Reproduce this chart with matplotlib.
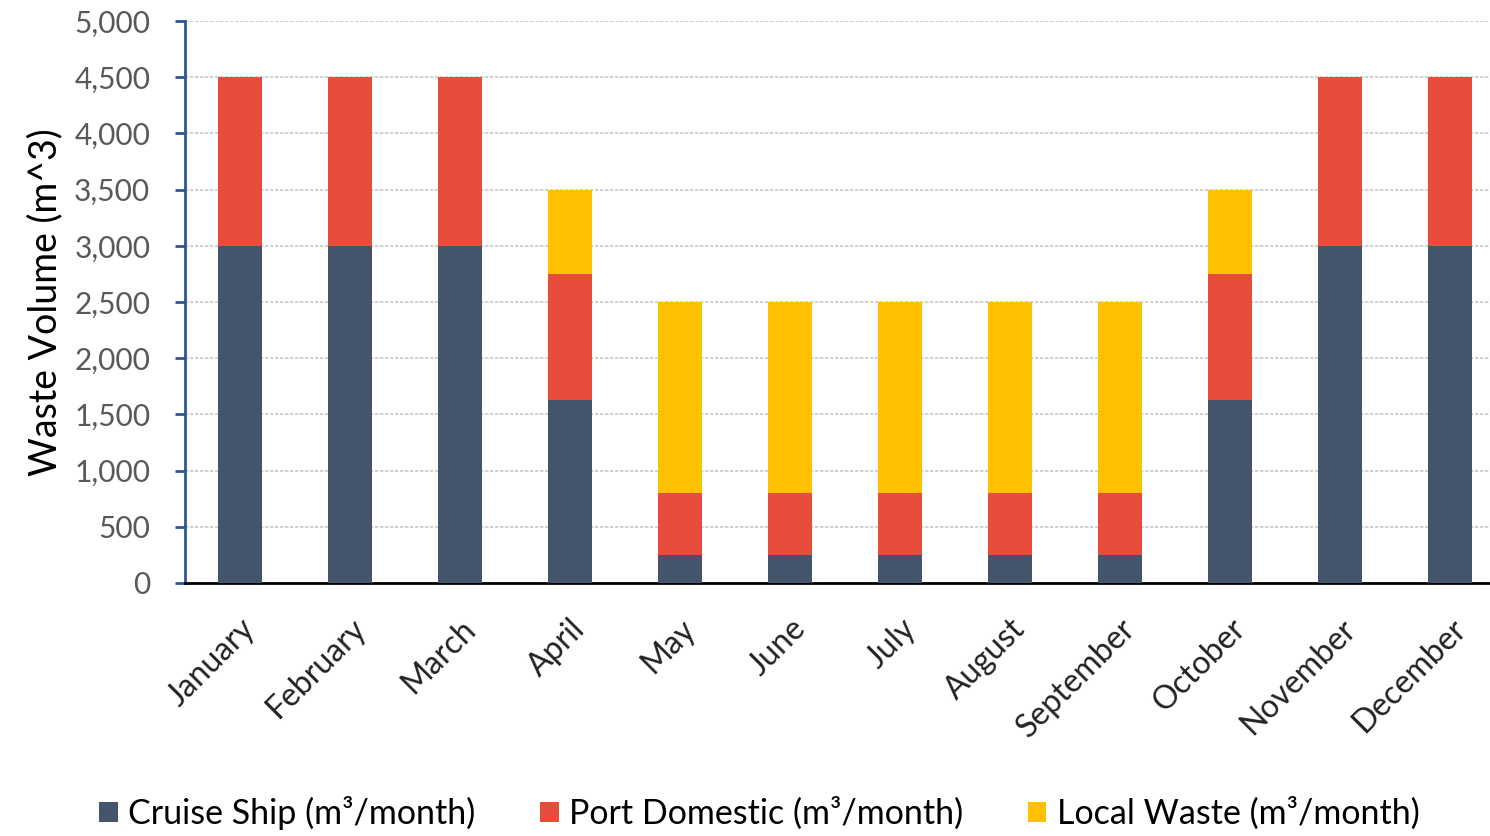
import numpy as np
import matplotlib.pyplot as plt
from matplotlib.ticker import FuncFormatter

plt.rcParams['font.family'] = ['Lato', 'DejaVu Sans']

months = ['January', 'February', 'March', 'April', 'May', 'June', 'July',
          'August', 'September', 'October', 'November', 'December']
cruise = [3000, 3000, 3000, 1625, 250, 250, 250, 250, 250, 1625, 3000, 3000]
port = [1500, 1500, 1500, 1125, 550, 550, 550, 550, 550, 1125, 1500, 1500]
local = [0, 0, 0, 750, 1700, 1700, 1700, 1700, 1700, 750, 0, 0]

c_cruise = '#44546A'
c_port = '#E84C3A'
c_local = '#FFC000'

fig = plt.figure(figsize=(14.9, 8.36), dpi=100)
ax = fig.add_axes([185 / 1490, 1 - 583 / 836, (1490 - 185) / 1490, (583 - 21) / 836])

x = np.arange(len(months))
cruise = np.array(cruise)
port = np.array(port)
local = np.array(local)
w = 0.4
ax.bar(x, cruise, w, color=c_cruise, label='Cruise Ship (m³/month)', zorder=3)
ax.bar(x, port, w, bottom=cruise, color=c_port, label='Port Domestic (m³/month)', zorder=3)
ax.bar(x, local, w, bottom=cruise + port, color=c_local, label='Local Waste (m³/month)', zorder=3)

ax.set_xlim(-0.5, 11.36)
ax.set_ylim(0, 5000)
ax.set_yticks(np.arange(0, 5001, 500))
ax.yaxis.set_major_formatter(FuncFormatter(lambda v, p: f'{int(v):,}'))
ax.grid(axis='y', color='#C8C8C8', linestyle=(0, (2, 1)), linewidth=1.2, zorder=0)

for s in ['top', 'right']:
    ax.spines[s].set_visible(False)
ax.spines['left'].set_color('#2F5597')
ax.spines['left'].set_linewidth(2)
ax.spines['bottom'].set_color('black')
ax.spines['bottom'].set_linewidth(2)
ax.tick_params(axis='y', colors='#2F5597', length=7, width=2, labelcolor='#595959',
               labelsize=21.5, pad=18)
ax.tick_params(axis='x', length=0, labelsize=23, labelcolor='#222222', pad=22)
ax.set_xticks(x)
ax.set_xticklabels(months, rotation=45, ha='right', rotation_mode='anchor')
ax.set_ylabel('Waste Volume (m^3)', fontsize=27, color='black', labelpad=8)

ax.legend(loc='center', bbox_to_anchor=(0.44, -0.409), ncol=3, frameon=False,
          fontsize=24.5, handlelength=0.55, handleheight=0.55, handletextpad=0.3,
          columnspacing=1.9)

fig.savefig('out.png', dpi=100)
